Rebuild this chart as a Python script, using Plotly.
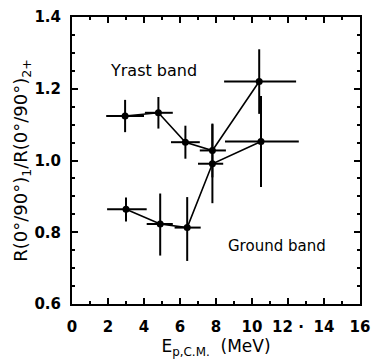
import plotly.graph_objects as go

# Yrast band
yr_x = [2.95, 4.8, 6.3, 7.8, 10.4]
yr_y = [1.124, 1.133, 1.051, 1.028, 1.22]
yr_ey_plus = [0.045, 0.044, 0.046, 0.075, 0.09]
yr_ey_minus = [0.045, 0.044, 0.046, 0.075, 0.09]
yr_ex_plus = [1.05, 0.8, 0.8, 0.75, 2.05]
yr_ex_minus = [1.05, 0.75, 0.8, 0.7, 1.95]

# Ground band
gr_x = [3.0, 4.9, 6.4, 7.8, 10.5]
gr_y = [0.864, 0.823, 0.813, 0.991, 1.053]
gr_ey_plus = [0.033, 0.085, 0.085, 0.11, 0.127]
gr_ey_minus = [0.034, 0.088, 0.093, 0.11, 0.127]
gr_ex_plus = [1.15, 0.7, 0.75, 0.6, 2.1]
gr_ex_minus = [1.05, 0.75, 0.7, 0.8, 2.0]

x_ticks = [0, 2, 4, 6, 8, 10, 12, 14, 16]
x_tick_text = ["0", "2", "4", "6", "8", "10", "12 ·", "14", "16"]
y_ticks = [0.6, 0.8, 1.0, 1.2, 1.4]
y_tick_text = ["0.6", "0.8", "1.0", "1.2", "1.4"]

FONT = "DejaVu Sans"

def band(x, y, eyp, eym, exp_, exm):
    return go.Scatter(
        x=x, y=y, mode="lines+markers",
        line=dict(color="black", width=1.6),
        marker=dict(color="black", size=7),
        error_y=dict(type="data", symmetric=False, array=eyp, arrayminus=eym,
                     color="black", thickness=2, width=0),
        error_x=dict(type="data", symmetric=False, array=exp_, arrayminus=exm,
                     color="black", thickness=2, width=0),
        showlegend=False, hoverinfo="skip",
    )

fig = go.Figure()
fig.add_trace(band(yr_x, yr_y, yr_ey_plus, yr_ey_minus, yr_ex_plus, yr_ex_minus))
fig.add_trace(band(gr_x, gr_y, gr_ey_plus, gr_ey_minus, gr_ex_plus, gr_ex_minus))

fig.add_annotation(x=4.5, y=1.25, text="Yrast band", showarrow=False,
                   font=dict(family=FONT, size=16, color="black"))
fig.add_annotation(x=11.4, y=0.763, text="Ground band", showarrow=False,
                   font=dict(family=FONT, size=15, color="black"))

axis_common = dict(
    showline=True, linecolor="black", linewidth=2, mirror="allticks",
    ticks="inside", ticklen=6, tickwidth=2, tickcolor="black",
    showgrid=False, zeroline=False, automargin=False,
    tickfont=dict(family=FONT, size=15, color="black", weight="bold"),
)

fig.update_xaxes(
    range=[0, 16], tickvals=x_ticks, ticktext=x_tick_text,
    minor=dict(dtick=1, ticks="inside", ticklen=3, tickwidth=1.5, tickcolor="black"),
    title=dict(text="E<sub>p,C.M.</sub>  (MeV)", standoff=4,
               font=dict(family=FONT, size=17, color="black")),
    ticklabelstandoff=8,
    **axis_common,
)
fig.update_yaxes(
    range=[0.6, 1.4], tickvals=y_ticks, ticktext=y_tick_text,
    minor=dict(tick0=0.6, dtick=0.05, ticks="inside", ticklen=3, tickwidth=1.5, tickcolor="black"),
    title=dict(text="R(0°/90°)<sub>1</sub>/R(0°/90°)<sub>2+</sub>", standoff=2,
               font=dict(family=FONT, size=18, color="black")),
    ticklabelstandoff=6,
    **axis_common,
)

fig.update_layout(
    width=375, height=361,
    margin=dict(l=72, r=15, t=17, b=57),
    paper_bgcolor="white", plot_bgcolor="white",
)

fig.write_html("out.html")
